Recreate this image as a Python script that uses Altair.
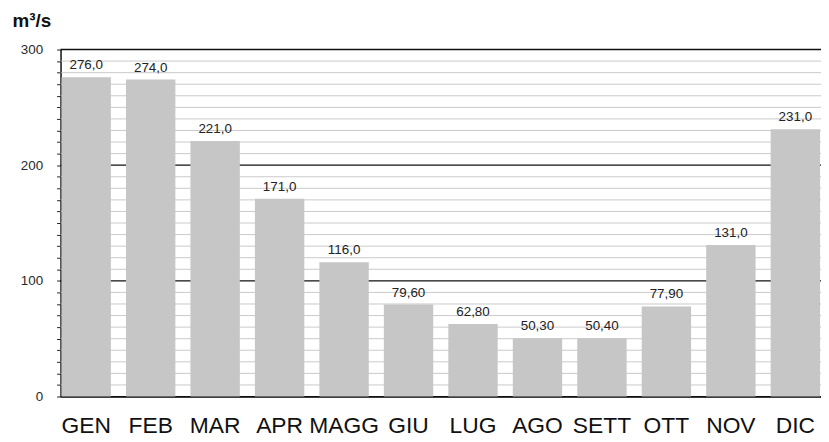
import altair as alt
import pandas as pd

months = ["GEN", "FEB", "MAR", "APR", "MAGG", "GIU", "LUG", "AGO", "SETT", "OTT", "NOV", "DIC"]
values = [276.0, 274.0, 221.0, 171.0, 116.0, 79.6, 62.8, 50.3, 50.4, 77.9, 131.0, 231.0]
labels = ["276,0", "274,0", "221,0", "171,0", "116,0", "79,60", "62,80", "50,30", "50,40", "77,90", "131,0", "231,0"]
y_ticks = list(range(0, 301, 10))

df = pd.DataFrame({"mese": months, "portata": values, "etichetta": labels})
grid_df = pd.DataFrame({"v": y_ticks, "major": [t % 100 == 0 for t in y_ticks]})

FONT = "Liberation Sans"

yscale = alt.Scale(domain=[0, 300], nice=False)
yaxis = alt.Axis(values=y_ticks, labelOverlap=False,
                 labelExpr="datum.value % 100 === 0 ? datum.label : ''",
                 labelFontSize=13.5, labelColor="#2a2a2a", labelFont=FONT, labelPadding=14,
                 tickSize=4, tickColor="#222",
                 domainColor="#111", domainWidth=1.5,
                 grid=False,
                 title="m³/s", titleAngle=0, titleAlign="left", titleBaseline="top",
                 titleX=-49, titleY=-38, titleFontSize=19, titleFont=FONT,
                 titleFontWeight="bold", titleColor="#111")
xaxis = alt.Axis(title=None, labelAngle=0, labelFontSize=23, labelColor="#111",
                 labelFont=FONT, labelFontWeight="normal", ticks=False,
                 domainColor="#111", domainWidth=1.5, labelPadding=18)
xscale = alt.Scale(paddingInner=0.234, paddingOuter=0.015)

grid = alt.Chart(grid_df).mark_rule().encode(
    y=alt.Y("v:Q", scale=yscale, axis=yaxis),
    color=alt.Color("major:N", scale=alt.Scale(domain=[True, False], range=["#111", "#bcbcbc"]), legend=None),
    strokeWidth=alt.StrokeWidth("major:N", scale=alt.Scale(domain=[True, False], range=[1.3, 0.8]), legend=None),
)
bars = alt.Chart(df).mark_bar(color="#c6c6c6").encode(
    x=alt.X("mese:N", sort=months, scale=xscale, axis=xaxis),
    y=alt.Y("portata:Q", scale=yscale, axis=yaxis))
text = alt.Chart(df).mark_text(baseline="bottom", dy=-5, fontSize=13.5, font=FONT, color="#222").encode(
    x=alt.X("mese:N", sort=months, scale=xscale, axis=xaxis),
    y=alt.Y("portata:Q", scale=yscale, axis=yaxis),
    text="etichetta:N")

chart = (grid + bars + text).properties(
    width=767, height=350,
    autosize=alt.AutoSizeParams(type="none"),
    padding={"left": 53, "top": 40, "right": 0, "bottom": 44},
    background="white",
).configure_view(stroke=None)

chart.save("out.html", embed_options={"renderer": "svg", "actions": False})
